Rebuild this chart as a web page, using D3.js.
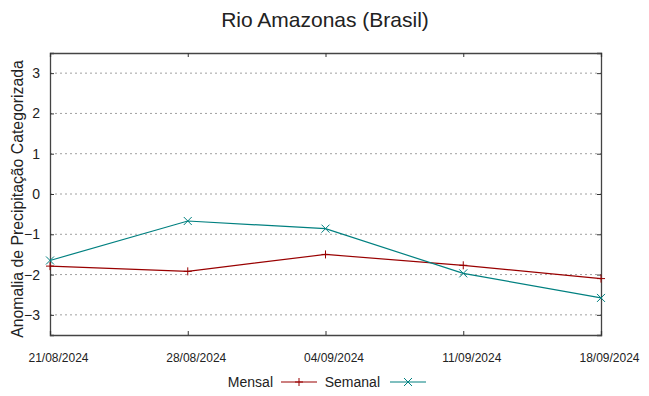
<!DOCTYPE html>
<html>
<head>
  <script src="https://d3js.org/d3.v7.min.js"></script>
  <style>
    body { margin: 0; background: #fff; }
    text { font-family: "Liberation Sans", Arial, sans-serif; fill: #222; }
  </style>
</head>
<body>
<div id="chart"></div>
<script>
  // Data
  const dates = ["21/08/2024", "28/08/2024", "04/09/2024", "11/09/2024", "18/09/2024"];
  const mensal = [-1.79, -1.92, -1.50, -1.77, -2.10];
  const semanal = [-1.65, -0.67, -0.86, -1.97, -2.58];
  const yTicks = [-3, -2, -1, 0, 1, 2, 3];

  const W = 649, H = 396;
  const margin = { top: 53, right: 48, bottom: 61, left: 50 };
  const width = W - margin.left - margin.right;
  const height = H - margin.top - margin.bottom;

  const svg = d3.select("#chart").append("svg")
    .attr("width", W).attr("height", H);

  const g = svg.append("g")
    .attr("transform", `translate(${margin.left},${margin.top})`);

  const x = d3.scalePoint().domain(dates).range([0, width]);
  const y = d3.scaleLinear().domain([-3.5, 3.5]).range([height, 0]);

  // Grid lines (dotted)
  g.selectAll(".grid").data(yTicks).enter().append("line")
    .attr("x1", 0).attr("x2", width)
    .attr("y1", d => y(d)).attr("y2", d => y(d))
    .attr("stroke", "#a0a0a0").attr("stroke-width", 1)
    .attr("stroke-dasharray", "2,3");

  // Axes with inward ticks
  const axLeft = g.append("g")
    .call(d3.axisLeft(y).tickValues(yTicks).tickSize(-4).tickPadding(10).tickFormat(d3.format("d")));
  const axRight = g.append("g").attr("transform", `translate(${width},0)`)
    .call(d3.axisRight(y).tickValues(yTicks).tickSize(-4).tickFormat(""));
  const axBottom = g.append("g").attr("transform", `translate(0,${height})`)
    .call(d3.axisBottom(x).tickSize(-4).tickPadding(18));
  const axTop = g.append("g")
    .call(d3.axisTop(x).tickSize(-4).tickFormat(""));

  [axLeft, axRight, axBottom, axTop].forEach(a => {
    a.select(".domain").attr("stroke", "#444").attr("stroke-width", 1.3);
    a.selectAll(".tick line").attr("stroke", "#333");
  });
  axLeft.selectAll("text").style("font-size", "14px").attr("fill", "#222");
  axBottom.selectAll("text").style("font-size", "12px").attr("fill", "#222").attr("dx", 8);

  // Lines
  const line = d3.line().x((d, i) => x(dates[i])).y(d => y(d));
  const series = [
    { name: "Mensal", values: mensal, color: "#990000", marker: "plus" },
    { name: "Semanal", values: semanal, color: "#008080", marker: "cross" }
  ];

  function marker(sel, type, color) {
    const s = 4;
    if (type === "plus") {
      sel.append("path").attr("d", `M${-s},0H${s}M0,${-s}V${s}`);
    } else {
      sel.append("path").attr("d", `M${-s},${-s}L${s},${s}M${-s},${s}L${s},${-s}`);
    }
    sel.selectAll("path").attr("stroke", color).attr("stroke-width", 1).attr("fill", "none");
  }

  series.forEach(s => {
    g.append("path").datum(s.values)
      .attr("d", line)
      .attr("fill", "none")
      .attr("stroke", s.color)
      .attr("stroke-width", 1.2);
    g.selectAll(null).data(s.values).enter().append("g")
      .attr("transform", (d, i) => `translate(${x(dates[i])},${y(d)})`)
      .each(function () { marker(d3.select(this), s.marker, s.color); });
  });

  // Title
  svg.append("text")
    .attr("x", 325).attr("y", 27)
    .attr("text-anchor", "middle")
    .style("font-size", "21px")
    .text("Rio Amazonas (Brasil)");

  // Y axis label
  svg.append("text")
    .attr("transform", `translate(23,${margin.top + height / 2 + 5}) rotate(-90)`)
    .attr("text-anchor", "middle")
    .style("font-size", "15.8px")
    .text("Anomalia de Precipitação Categorizada");

  // Legend
  const legend = svg.append("g").attr("transform", "translate(0,382)");
  const items = [
    { label: "Mensal", tx: 273, lx: 281, color: "#990000", marker: "plus" },
    { label: "Semanal", tx: 380, lx: 390, color: "#008080", marker: "cross" }
  ];
  items.forEach(it => {
    legend.append("text").attr("x", it.tx).attr("y", 5)
      .attr("text-anchor", "end").style("font-size", "14px").text(it.label);
    legend.append("line").attr("x1", it.lx).attr("x2", it.lx + 36)
      .attr("y1", 0).attr("y2", 0).attr("stroke", it.color).attr("stroke-width", 1.2);
    const m = legend.append("g").attr("transform", `translate(${it.lx + 18},0)`);
    marker(m, it.marker, it.color);
  });
</script>
</body>
</html>
